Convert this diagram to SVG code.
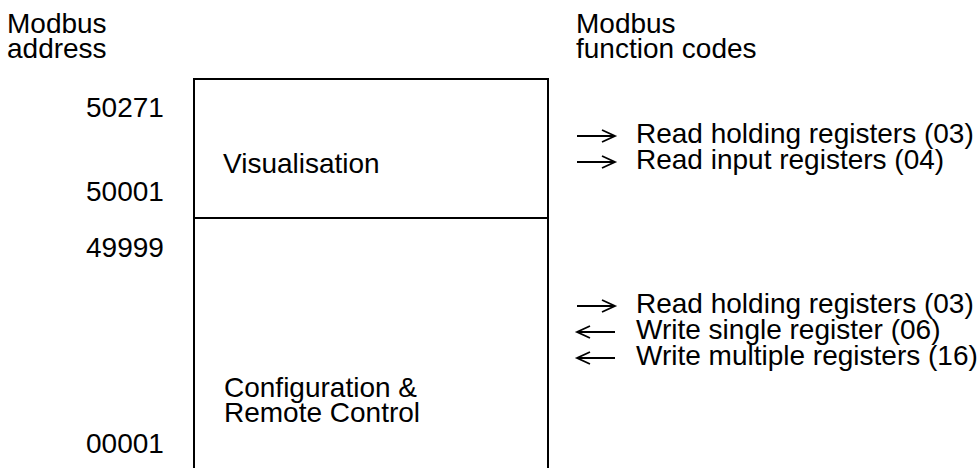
<svg xmlns="http://www.w3.org/2000/svg" width="979" height="468" viewBox="0 0 979 468">
<style>
text{font-family:"Liberation Sans",Arial,sans-serif;font-size:28px;fill:#000}
.box{fill:none;stroke:#000;stroke-width:2}
.arr{fill:none;stroke:#000;stroke-width:1.8}
</style>
<rect width="979" height="468" fill="#fff"/>
<g id="header-left"><text x="7" y="33">Modbus</text><text x="7" y="58">address</text></g>
<g id="header-right"><text x="576" y="33">Modbus</text><text x="576" y="58">function codes</text></g>
<g id="addresses">
<text x="86" y="117">50271</text>
<text x="86" y="201">50001</text>
<text x="86" y="257">49999</text>
<text x="86" y="453">00001</text>
</g>
<g id="visualisation">
<path class="box" d="M194,468 V79 H548 V468 M194,218 H548"/>
<text x="223" y="173">Visualisation</text>
</g>
<g id="configuration">
<text x="224" y="397">Configuration &amp;</text>
<text x="224" y="422">Remote Control</text>
</g>
<g id="connectors">
<path class="arr" d="M577,136 H615 M602,130 L615,136 L602,142"/>
<path class="arr" d="M577,162 H615 M602,156 L615,162 L602,168"/>
<path class="arr" d="M577,306 H615 M602,300 L615,306 L602,312"/>
<path class="arr" d="M577,332 H615 M590,326 L577,332 L590,338"/>
<path class="arr" d="M577,358 H615 M590,352 L577,358 L590,364"/>
</g>
<g id="codes">
<text x="636" y="143">Read holding registers (03)</text>
<text x="636" y="169">Read input registers (04)</text>
<text x="636" y="313">Read holding registers (03)</text>
<text x="636" y="339">Write single register (06)</text>
<text x="636" y="365">Write multiple registers (16)</text>
</g>
</svg>
